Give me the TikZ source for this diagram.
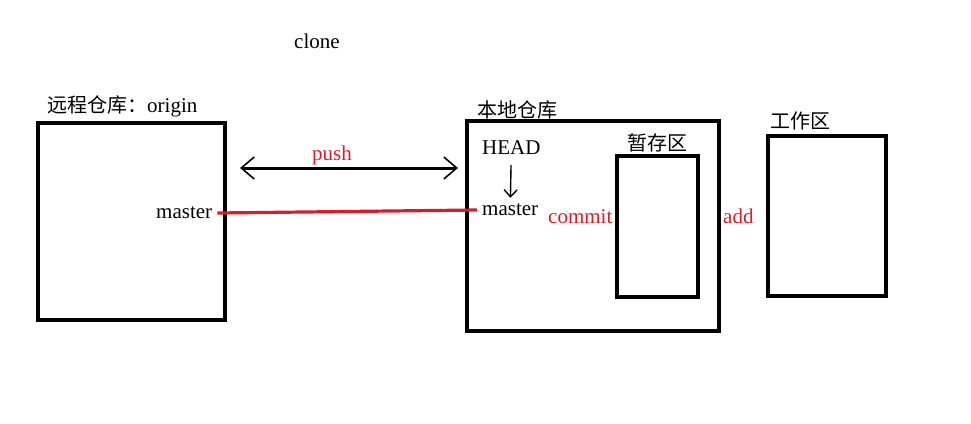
\documentclass[tikz,border=0pt]{standalone}
\usepackage{fontspec}
\setmainfont{Liberation Serif}
\newfontfamily\cjk{Noto Sans CJK SC}
\usetikzlibrary{
	arrows.meta,
	positioning
}
\definecolor{PushRed}{RGB}{218,28,40}

\begin{document}
\begin{tikzpicture}[x=1pt, y=-1pt,
		font=\fontsize{21}{24}\selectfont,
		box/.style={draw, line width=3.2pt, inner sep=0pt},
		lbl/.style={anchor=west, inner sep=0pt},
		cjklbl/.style={lbl, font=\fontsize{20}{24}\cjk},
		redlbl/.style={lbl, text=PushRed}]
		\useasboundingbox (0,0) rectangle (971,423);
		
		% 远程仓库
		\node[box, minimum width=187pt, minimum height=197pt] (remote) at (131.5,221.5) {};
		\node[cjklbl] (remotename) at (47,106) {远程仓库：\fontsize{21}{24}\rmfamily origin};
		\node[lbl, inner xsep=5pt] (mL) at (151,213) {master};
		
		% 本地仓库
		\node[box, minimum width=252pt, minimum height=210pt] (local) at (593,226) {};
		\node[cjklbl] (localname) at (477,110) {本地仓库};
		\node[lbl] (head) at (482,148) {HEAD};
		\node[lbl, inner xsep=5pt] (mR) at (477,210) {master};
		
		% 暂存区 / 工作区
		\node[box, minimum width=81pt, minimum height=141pt] (stage) at (657.5,226.5) {};
		\node[cjklbl] (stagename) at (627,143) {暂存区};
		\node[box, minimum width=118pt, minimum height=160pt] (work) at (827,216) {};
		\node[cjklbl] (workname) at (770,121) {工作区};
		
		% 文字
		\node[lbl] (clone) at (294,41) {clone};
		\node[redlbl] (push) at (312,155) {push};
		\node[redlbl] (commit) at (548,217) {commit};
		\node[redlbl] (add) at (723,216) {add};
		
		% 箭头与连线
		\coordinate (pL) at (240,168);
		\coordinate (pR) at (458,168);
		\draw[line width=3pt, {Straight Barb[length=13pt,width=22pt,line width=1.6pt]}-{Straight Barb[length=13pt,width=22pt,line width=1.6pt]}] (pL) -- (pR);
		\draw[line width=1.4pt, -{Straight Barb[length=7pt,width=13pt]}, shorten <=10pt, shorten >=6pt] (head) -- (mR);
		\draw[PushRed, line width=3.2pt] (mL.east) -- (mR.west);
	\end{tikzpicture}
\end{document}
